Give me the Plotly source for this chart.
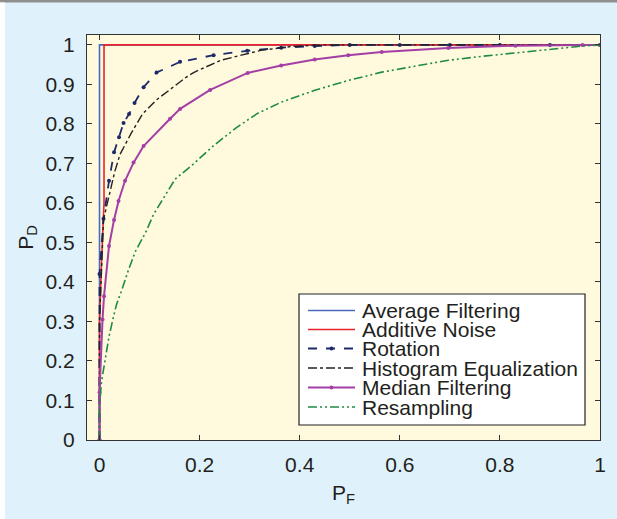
import plotly.graph_objects as go

# ---- data ----
avg_x = [0, 0, 1]
avg_y = [0, 1, 1]

add_x = [0, 0, 0.004, 0.009, 0.009, 1]
add_y = [0, 0.30, 0.45, 0.60, 1.0, 1.0]

rot_x = [0, 0, 0.008, 0.019, 0.029, 0.039, 0.048, 0.059, 0.070, 0.088, 0.114,
         0.161, 0.228, 0.295, 0.363, 0.430, 0.500, 0.600, 0.700, 0.800, 0.900, 1.0]
rot_y = [0, 0.42, 0.56, 0.656, 0.728, 0.766, 0.802, 0.825, 0.853, 0.893, 0.930,
         0.957, 0.974, 0.985, 0.993, 0.997, 1.0, 1.0, 1.0, 1.0, 1.0, 1.0]

his_x = [0, 0, 0.008, 0.030, 0.041, 0.064, 0.086, 0.114, 0.172, 0.188, 0.242,
         0.322, 0.383, 0.450, 1.0]
his_y = [0, 0.30, 0.558, 0.677, 0.723, 0.778, 0.825, 0.861, 0.917, 0.930, 0.961,
         0.986, 0.996, 1.0, 1.0]

med_x = [0, 0, 0.006, 0.009, 0.019, 0.029, 0.038, 0.051, 0.068, 0.088, 0.141,
         0.161, 0.221, 0.296, 0.363, 0.430, 0.497, 0.564, 0.697, 0.831, 0.965, 1.0]
med_y = [0, 0.12, 0.305, 0.364, 0.491, 0.557, 0.605, 0.656, 0.702, 0.744, 0.813,
         0.838, 0.886, 0.929, 0.948, 0.963, 0.974, 0.982, 0.992, 0.998, 1.0, 1.0]

res_x = [0, 0, 0.004, 0.011, 0.019, 0.028, 0.034, 0.045, 0.058, 0.072, 0.092,
         0.108, 0.131, 0.151, 0.188, 0.228, 0.275, 0.315, 0.363, 0.430, 0.497,
         0.564, 0.630, 0.697, 0.764, 0.831, 0.898, 0.965, 1.0]
res_y = [0, 0.085, 0.148, 0.203, 0.262, 0.313, 0.343, 0.381, 0.431, 0.478, 0.525,
         0.571, 0.618, 0.660, 0.699, 0.745, 0.792, 0.826, 0.855, 0.885, 0.910,
         0.931, 0.946, 0.961, 0.971, 0.980, 0.988, 0.997, 1.0]

names = ["Average Filtering", "Additive Noise", "Rotation",
         "Histogram Equalization", "Median Filtering", "Resampling"]

x_ticks = [0, 0.2, 0.4, 0.6, 0.8, 1]
x_ticktext = ["0", "0.2", "0.4", "0.6", "0.8", "1"]
y_ticks = [0, 0.1, 0.2, 0.3, 0.4, 0.5, 0.6, 0.7, 0.8, 0.9, 1]
y_ticktext = ["0", "0.1", "0.2", "0.3", "0.4", "0.5", "0.6", "0.7", "0.8", "0.9", "1"]

# ---- styles ----
colors = ["#4a6bbd", "#e8232b", "#1c2a6b", "#222222", "#a43fa6", "#1f8a43"]
dashes = ["solid", "solid", "dash", "dashdot", "solid", "9px,3px,2px,3px,2px,3px"]
widths = [1.6, 1.6, 1.8, 1.4, 2.0, 1.6]
has_marker = [False, False, True, False, True, False]

series = [(avg_x, avg_y), (add_x, add_y), (rot_x, rot_y),
          (his_x, his_y), (med_x, med_y), (res_x, res_y)]

fig = go.Figure()
for i, (xs, ys) in enumerate(series):
    fig.add_trace(go.Scatter(
        x=xs, y=ys, name=names[i],
        mode="lines+markers" if has_marker[i] else "lines",
        line=dict(color=colors[i], width=widths[i], dash=dashes[i]),
        marker=dict(color=colors[i], size=4, symbol="circle"),
        showlegend=False))

W, H = 617, 519
ml, mr, mt, mb = 87, 17, 35, 79
pw = W - ml - mr
ph = H - mt - mb


def pxx(px):
    return (px - ml) / pw


def pxy(py):
    return (H - mb - py) / ph


shapes = []
# decorative frame of the figure panel: grey top rule and white left strip
shapes.append(dict(type="rect", xref="paper", yref="paper",
                   x0=pxx(0), x1=pxx(W), y0=pxy(2.5), y1=pxy(0),
                   fillcolor="#8f8f8f", line=dict(width=0), layer="below"))
shapes.append(dict(type="rect", xref="paper", yref="paper",
                   x0=pxx(0), x1=pxx(5), y0=pxy(H), y1=pxy(2.5),
                   fillcolor="#ffffff", line=dict(width=0), layer="below"))

# legend box (drawn to match the reference's compact row spacing)
shapes.append(dict(type="rect", xref="paper", yref="paper",
                   x0=pxx(299), x1=pxx(585), y0=pxy(425), y1=pxy(294),
                   fillcolor="#ffffff", line=dict(color="#222222", width=1.2),
                   layer="above"))
row_y = [310.5, 329.5, 348.5, 368, 387.5, 407]
annotations = []
font_family = "Liberation Sans, Arial, Helvetica, sans-serif"
txt = "#231f20"
for i, name in enumerate(names):
    yy = pxy(row_y[i])
    shapes.append(dict(type="line", xref="paper", yref="paper",
                       x0=pxx(308), x1=pxx(355), y0=yy, y1=yy,
                       line=dict(color=colors[i], width=widths[i], dash=dashes[i]),
                       layer="above"))
    if has_marker[i]:
        shapes.append(dict(type="circle", xref="paper", yref="paper",
                           x0=pxx(329.5), x1=pxx(333.5),
                           y0=pxy(row_y[i] + 2), y1=pxy(row_y[i] - 2),
                           fillcolor=colors[i], line=dict(width=0), layer="above"))
    annotations.append(dict(text=name, xref="paper", yref="paper",
                            x=pxx(361), y=yy, xanchor="left", yanchor="middle",
                            borderpad=0, showarrow=False,
                            font=dict(family=font_family, size=21, color=txt)))

axis_common = dict(showline=True, linecolor="#333333", linewidth=1.4, mirror="ticks",
                   ticks="inside", ticklen=5, tickcolor="#333333", tickwidth=1,
                   showgrid=False, zeroline=False,
                   tickfont=dict(family=font_family, size=21, color=txt))

fig.update_layout(
    width=W, height=H,
    margin=dict(l=ml, r=mr, t=mt, b=mb, autoexpand=False),
    paper_bgcolor="#dff2fb",
    plot_bgcolor="#fffadd",
    font=dict(family=font_family, color=txt),
    xaxis=dict(range=[-0.025, 1.0], tickvals=x_ticks, ticktext=x_ticktext,
               ticklabelstandoff=6,
               title=dict(text="P<sub>F</sub>",
                          font=dict(size=21, family=font_family, color=txt),
                          standoff=9),
               **axis_common),
    yaxis=dict(range=[0, 1.025], tickvals=y_ticks, ticktext=y_ticktext,
               ticklabelstandoff=7,
               title=dict(text="P<sub>D</sub>",
                          font=dict(size=21, family=font_family, color=txt),
                          standoff=6),
               **axis_common),
    shapes=shapes,
    annotations=annotations,
    showlegend=False,
)

fig.write_html("out.html", config={"displayModeBar": False},
               post_script="document.body.style.margin='0px';")
